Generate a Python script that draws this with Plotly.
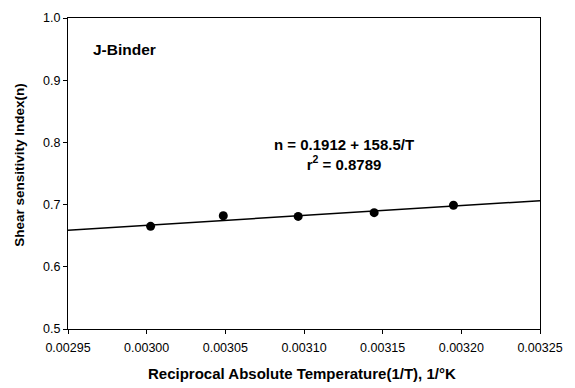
import plotly.graph_objects as go

# Data
inv_T = [0.0030025, 0.0030487, 0.0030963, 0.0031446, 0.0031950]
n_vals = [0.665, 0.682, 0.681, 0.687, 0.699]

# Regression coefficients as labeled on the chart
intercept = 0.1912
slope = 158.5

x_range = [0.00295, 0.00325]
y_range = [0.5, 1.0]
x_ticks = [0.00295, 0.00300, 0.00305, 0.00310, 0.00315, 0.00320, 0.00325]
y_ticks = [0.5, 0.6, 0.7, 0.8, 0.9, 1.0]

trend_x = x_range
trend_y = [intercept + slope * v for v in trend_x]

FONT = "Liberation Sans, Arial, sans-serif"

fig = go.Figure()
fig.add_trace(go.Scatter(x=trend_x, y=trend_y, mode="lines",
                         line=dict(color="black", width=1.5),
                         showlegend=False, hoverinfo="skip"))
fig.add_trace(go.Scatter(x=inv_T, y=n_vals, mode="markers",
                         marker=dict(color="black", size=9),
                         showlegend=False))

fig.update_layout(
    width=575, height=388,
    margin=dict(l=68, r=35, t=11, b=59),
    paper_bgcolor="white", plot_bgcolor="white",
    font=dict(family=FONT, color="black", size=12),
    xaxis=dict(range=x_range, tickvals=x_ticks, tickformat=".5f",
               showgrid=False, zeroline=False,
               showline=True, linecolor="black", linewidth=1.2, mirror=True,
               ticks="outside", ticklen=4, tickcolor="black",
               ticklabelstandoff=3,
               tickfont=dict(size=12.5)),
    yaxis=dict(range=y_range, tickvals=y_ticks, tickformat=".1f",
               showgrid=False, zeroline=False,
               showline=True, linecolor="black", linewidth=1.2, mirror=True,
               ticks="outside", ticklen=4, tickcolor="black",
               tickfont=dict(size=12.5)),
    annotations=[
        dict(x=0.0029856, y=0.95, xref="x", yref="y", text="<b>J-Binder</b>",
             showarrow=False, font=dict(size=15.5), xanchor="center", yanchor="middle"),
        dict(x=0.0031253, y=0.7805, xref="x", yref="y",
             text="<b>n = 0.1912 + 158.5/T<br>r<sup>2</sup> = 0.8789</b>",
             showarrow=False, font=dict(size=15), xanchor="center", yanchor="middle",
             align="center"),
        dict(x=(301.5 - 68) / 472, y=(329 - 374) / 318, xref="paper", yref="paper",
             text="<b>Reciprocal Absolute Temperature(1/T), 1/°K</b>",
             showarrow=False, font=dict(size=15), xanchor="center", yanchor="middle"),
        dict(x=(20 - 68) / 472, y=(329 - 161) / 318, xref="paper", yref="paper",
             text="<b>Shear sensitivity Index(n)</b>", textangle=-90,
             showarrow=False, font=dict(size=13.5), xanchor="center", yanchor="middle"),
    ],
)

fig.write_html("out.html")
